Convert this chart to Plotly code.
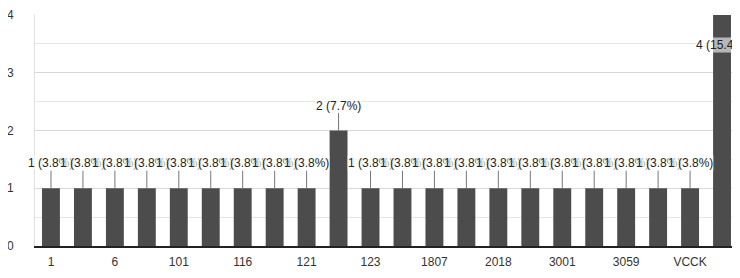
import plotly.graph_objects as go

categories = ["1", "5", "6", "100", "101", "115", "116", "120", "121", "122", "123",
              "1806", "1807", "2017", "2018", "3000", "3001", "3058", "3059", "VCC", "VCCK", "VDD"]
values = [1, 1, 1, 1, 1, 1, 1, 1, 1, 2, 1, 1, 1, 1, 1, 1, 1, 1, 1, 1, 1, 4]
shown_ticks = ["1", "6", "101", "116", "121", "123", "1807", "2018", "3001", "3059", "VCCK"]

total = sum(values)
labels = [f"{v} ({v / total * 100:.1f}%)" for v in values]
idx = list(range(len(categories)))

fig = go.Figure(go.Bar(x=idx, y=values, marker_color="#4c4c4c",
                       marker_line_width=0, width=0.56))

ymax = 4
for i, v, t in zip(idx, values, labels):
    if v >= ymax:
        fig.add_annotation(x=i, y=v, text=t, showarrow=False, yshift=-30,
                           font=dict(size=12, color="#222"),
                           bgcolor="rgba(255,255,255,0.6)", borderpad=0)
    else:
        fig.add_annotation(x=i, y=v, text=t, showarrow=True, arrowhead=0, ax=0, ay=-25,
                           arrowwidth=1, arrowcolor="#777",
                           font=dict(size=12, color="#222"),
                           bgcolor="rgba(255,255,255,0.6)", borderpad=0)

tick_idx = [categories.index(s) for s in shown_ticks]

# page body has an 8px margin, so the figure is sized and offset to compensate
fig.update_layout(
    width=732, height=270,
    margin=dict(l=27, r=2, t=7, b=32),
    plot_bgcolor="white", paper_bgcolor="white",
    font=dict(family="Liberation Sans, Arial, sans-serif", size=12, color="#333"),
    showlegend=False,
    xaxis=dict(type="linear", range=[-0.5, len(categories) - 0.5], automargin=False,
               tickmode="array", tickvals=tick_idx, ticktext=shown_ticks,
               showline=True, linecolor="#222", linewidth=2, ticks="",
               showgrid=False, zeroline=False, tickfont=dict(size=12, color="#333"),
               ticklabelstandoff=4),
    yaxis=dict(range=[0, ymax], dtick=1, showgrid=True, gridcolor="#d8d8d8", automargin=False,
               zeroline=False, showline=True, linecolor="#e0e0e0", linewidth=1,
               minor=dict(dtick=0.5, showgrid=True, gridcolor="#e6e6e6"),
               tickfont=dict(size=12, color="#333"), ticklabelstandoff=18),
)

fig.write_html("out.html")
